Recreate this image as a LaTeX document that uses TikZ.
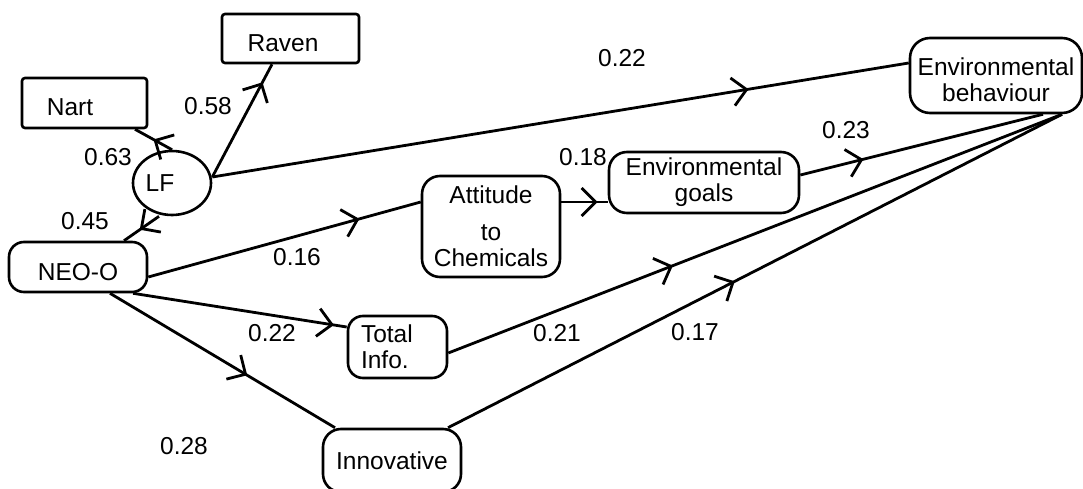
\documentclass[tikz,border=0pt]{standalone}
\usepackage{fontspec}
\setmainfont{Liberation Sans}
\usetikzlibrary{arrows.meta,decorations.markings,shapes.geometric}
\newcommand{\fs}{\fontsize{24.5}{26}\selectfont}
\tikzset{
  box/.style={draw, line width=2.6pt, font=\fs, align=center, inner sep=0pt},
  single/.style={text height=26pt, text depth=0pt},
  lbl/.style={font=\fs, inner sep=0pt},
  link/.style={line width=2.8pt},
  chev/.style={postaction={decorate},
    decoration={markings, mark=at position #1 with {\arrow{Straight Barb[length=14pt,width=28pt]}}}},
}
\begin{document}
\begin{tikzpicture}[x=1pt,y=-1pt]
\useasboundingbox (0,0) rectangle (1083,489);
% nodes
\node[box, single, rounded corners=3pt, minimum width=137pt, minimum height=49pt] (raven) at (290.5,38.5) {\makebox[0pt]{Raven\hspace*{15pt}}};
\node[box, single, rounded corners=3pt, minimum width=125pt, minimum height=50pt] (nart) at (84.5,103) {\makebox[0pt]{Nart\hspace*{29pt}}};
\node[box, ellipse, minimum width=78pt, minimum height=64pt] (LF) at (172,183) {\makebox[0pt]{LF\hspace*{24pt}}};
\node[box, single, rounded corners=15pt, minimum width=138pt, minimum height=50pt] (neo) at (78,267) {NEO-O};
\node[box, rounded corners=18pt, minimum width=138pt, minimum height=101pt] (att) at (491,226.5) {Attitude\\[11pt]to\\Chemicals};
\node[box, rounded corners=18pt, minimum width=190pt, minimum height=61pt] (goals) at (704,182.5) {Environmental\\goals};
\node[box, rounded corners=20pt, minimum width=172pt, minimum height=75pt] (envb) at (996,75.5) {\rule{0pt}{26pt}Environmental\\behaviour};
\node[box, rounded corners=15pt, align=left, text width=73pt, inner xsep=13pt, minimum height=62pt] (total) at (397.5,347) {Total\\Info.};
\node[box, rounded corners=18pt, minimum width=138pt, minimum height=63pt] (innov) at (392,460.5) {Innovative};
% connectors
\draw[link, chev=0.84] ([yshift=6pt]LF.east) -- ([xshift=-18.5pt]raven.south);
\draw[link, chev=0.5] (LF.north) -- ([xshift=50.5pt]nart.south);
\draw[link, chev=0.55] ([xshift=-13pt]LF.south) -- ([xshift=46pt]neo.north);
\draw[link, chev=0.77] ([yshift=6pt]LF.east) -- ([yshift=12.5pt]envb.west);
\draw[link, chev=0.775] ([yshift=-10pt]neo.east) -- ([yshift=24.5pt]att.west);
\draw[link, chev=0.78] ([yshift=24.5pt]att.east) -- ([yshift=-19.5pt]goals.west);
\draw[link, chev=0.26] ([yshift=7.5pt]goals.east) -- ([xshift=47pt]envb.south);
\draw[link, chev=0.94] ([xshift=55pt]neo.south) -- ([yshift=20pt]total.west);
\draw[link, chev=0.61] ([xshift=32pt]neo.south) -- ([xshift=-57pt]innov.north);
\draw[link, chev=0.366] ([yshift=-6pt]total.east) -- ([xshift=66pt]envb.south);
\draw[link, chev=0.467] ([xshift=56pt]innov.north) -- ([xshift=66pt]envb.south);
% labels
\node[lbl] (l58) at (208,106) {0.58};
\node[lbl] (l63) at (108,157) {0.63};
\node[lbl] (l45) at (85,221) {0.45};
\node[lbl] (l22a) at (622,58) {0.22};
\node[lbl] (l16) at (297,257) {0.16};
\node[lbl] (l18) at (583,157) {0.18};
\node[lbl] (l23) at (846,130) {0.23};
\node[lbl] (l22b) at (272,333) {0.22};
\node[lbl] (l28) at (184,446) {0.28};
\node[lbl] (l21) at (557,333) {0.21};
\node[lbl] (l17) at (695,332) {0.17};
\end{tikzpicture}
\end{document}
